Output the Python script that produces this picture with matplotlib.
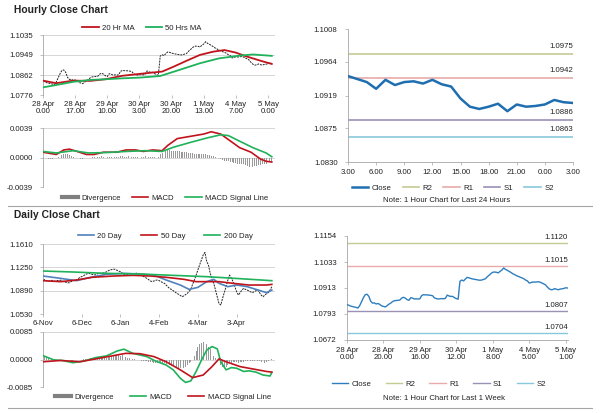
import numpy as np
import matplotlib
matplotlib.use("Agg")
import matplotlib.pyplot as plt
from matplotlib.lines import Line2D

plt.rcParams['font.family'] = ['Liberation Sans', 'DejaVu Sans']

# hourly close, 28 Apr 0.00 -> 5 May 1.00 (one value per bar)
hourly_close = [
    1.0836, 1.0833, 1.0829, 1.0827, 1.0825, 1.0823, 1.0820, 1.0832, 1.0850, 1.0868,
    1.0882, 1.0884, 1.0874, 1.0852, 1.0843, 1.0844, 1.0839, 1.0841, 1.0837, 1.0830,
    1.0828, 1.0825, 1.0831, 1.0838, 1.0843, 1.0850, 1.0854, 1.0855, 1.0856, 1.0857,
    1.0866, 1.0870, 1.0866, 1.0859, 1.0856, 1.0868, 1.0866, 1.0862, 1.0863, 1.0862,
    1.0863, 1.0878, 1.0882, 1.0881, 1.0881, 1.0880, 1.0879, 1.0877, 1.0867, 1.0864,
    1.0862, 1.0863, 1.0864, 1.0863, 1.0865, 1.0880, 1.0876, 1.0874, 1.0874, 1.0868,
    1.0864, 1.0861, 1.0944, 1.0950, 1.0946, 1.0955, 1.0962, 1.0960, 1.0957, 1.0955,
    1.0953, 1.0952, 1.0950, 1.0949, 1.0950, 1.0953, 1.0956, 1.0965, 1.0972, 1.0980,
    1.0986, 1.0987, 1.0986, 1.0983, 1.0990, 1.0996, 1.1006, 1.0999, 1.0995, 1.0990,
    1.0985, 1.0979, 1.0975, 1.0970, 1.0967, 1.0963, 1.0960, 1.0956, 1.0950, 1.0946,
    1.0936, 1.0938, 1.0941, 1.0940, 1.0941, 1.0942, 1.0940, 1.0936, 1.0932, 1.0927,
    1.0917, 1.0909, 1.0905, 1.0906, 1.0910, 1.0907, 1.0905, 1.0908, 1.0909, 1.0911,
    1.0914, 1.0913,
]
hourly_ticks = ["28 Apr\n0.00", "28 Apr\n17.00", "29 Apr\n10.00", "30 Apr\n3.00",
                "30 Apr\n20.00", "1 May\n13.00", "4 May\n7.00", "5 May\n0.00"]
week_ticks = ["28 Apr\n0.00", "28 Apr\n20.00", "29 Apr\n16.00", "30 Apr\n12.00",
              "1 May\n8.00", "4 May\n5.00", "5 May\n1.00"]
hourly_y = [1.0776, 1.0862, 1.0949, 1.1035]
hmacd_y = [-0.0039, 0.0000, 0.0039]
day_y = [1.0830, 1.0875, 1.0919, 1.0964, 1.1008]
week_y = [1.0672, 1.0793, 1.0913, 1.1033, 1.1154]
daily_y = [1.0530, 1.0890, 1.1250, 1.1610]
dmacd_y = [-0.0085, 0.0000, 0.0085]

ma20_idx = [0, 7, 16, 25, 33, 42, 51, 58, 63, 69, 76, 83, 90, 96, 102, 107, 115, 121]
ma20_val = [1.0838, 1.0827, 1.0838, 1.0837, 1.0844, 1.0859, 1.0867, 1.0873, 1.0877, 1.0898,
            1.0924, 1.0949, 1.0963, 1.0970, 1.0959, 1.0944, 1.0924, 1.0910]
ma50_idx = [0, 7, 16, 25, 33, 42, 51, 62, 72, 83, 93, 104, 111, 121]
ma50_val = [1.0809, 1.0819, 1.0833, 1.0841, 1.0844, 1.0848, 1.0851, 1.0858, 1.0884, 1.0913,
            1.0934, 1.0946, 1.0951, 1.0945]

hmacd_idx = [0, 7, 11, 14, 18, 23, 27, 32, 39, 44, 49, 53, 58, 63, 66, 71, 78, 85, 89, 94,
             99, 104, 110, 115, 118, 121]
hmacd_val = [0.0007, 0.0004, 0.0010, 0.0011, 0.0008, 0.0004, 0.0004, 0.0007, 0.0007, 0.0010,
             0.0010, 0.0008, 0.0010, 0.0009, 0.0016, 0.0025, 0.0028, 0.0031, 0.0034, 0.0031,
             0.0022, 0.0013, 0.0007, -0.0002, -0.0005, -0.0006]
hsig_idx = [0, 7, 16, 24, 33, 44, 54, 63, 69, 78, 87, 94, 98, 104, 111, 118, 121]
hsig_val = [0.0008, 0.0006, 0.0009, 0.0006, 0.00065, 0.0008, 0.0009, 0.0008, 0.00136, 0.0020,
            0.0026, 0.0030, 0.0029, 0.00216, 0.0013, 0.0006, 0.0001]
hdiv = [
    0.0001, 0.0000, -0.0001, -0.0002, -0.0002, -0.0002, -0.0001, 0.0000, 0.0001, 0.0002,
    0.0003, 0.0004, 0.0004, 0.0004, 0.0003, 0.0002, 0.0001, 0.0000, -0.0001, -0.0001,
    -0.0002, -0.0002, -0.0001, -0.0001, 0.0000, 0.0000, 0.0001, 0.0001, 0.0000, 0.0001,
    0.0001, 0.0002, 0.0001, 0.0000, 0.0001, 0.0001, 0.0001, 0.0000, 0.0001, 0.0001,
    0.0001, 0.0002, 0.0002, 0.0001, 0.0001, 0.0002, 0.0002, 0.0001, 0.0001, 0.0001,
    0.0001, 0.0000, 0.0001, 0.0001, 0.0002, 0.0002, 0.0001, 0.0001, 0.0001, 0.0001,
    0.0000, 0.0001, 0.0004, 0.0006, 0.0008, 0.0009, 0.0010, 0.0010, 0.0009, 0.0009,
    0.0008, 0.0008, 0.0008, 0.0007, 0.0007, 0.0007, 0.0007, 0.0006, 0.0006, 0.0006,
    0.0005, 0.0005, 0.0005, 0.0004, 0.0004, 0.0004, 0.0004, 0.0003, 0.0003, 0.0002,
    0.0002, 0.0001, 0.0000, -0.0001, -0.0002, -0.0003, -0.0004, -0.0005, -0.0005, -0.0006,
    -0.0006, -0.0007, -0.0007, -0.0008, -0.0008, -0.0008, -0.0009, -0.0010, -0.0011, -0.0012,
    -0.0012, -0.0012, -0.0011, -0.0011, -0.0010, -0.0010, -0.0009, -0.0008, -0.0008, -0.0007,
    -0.0006, -0.0006,
]

# last 24 hours, 4 May 3.00 -> 5 May 3.00
day_close = [1.0945, 1.0941, 1.0937, 1.0928, 1.0940, 1.0933, 1.0937, 1.0938, 1.0935, 1.0940,
             1.0934, 1.0931, 1.0915, 1.0904, 1.0901, 1.0904, 1.0908, 1.0898, 1.0907, 1.0904,
             1.0905, 1.0907, 1.0913, 1.0910, 1.0909]
day_ticks = ["3.00", "6.00", "9.00", "12.00", "15.00", "18.00", "21.00", "0.00", "3.00"]
day_levels = [1.0975, 1.0942, 1.0886, 1.0863]
week_levels = [1.1120, 1.1015, 1.0807, 1.0704]
level_names = ["R2", "R1", "S1", "S2"]

# daily close, 6-Nov onwards
daily_close = [
    1.1065, 1.1058, 1.1045, 1.1032, 1.1040, 1.1050, 1.1042, 1.1035, 1.1048, 1.1044,
    1.1052, 1.1038, 1.1025, 1.1020, 1.1010, 1.1013, 1.1030, 1.1042, 1.1050, 1.1054,
    1.1075, 1.1095, 1.1106, 1.1120, 1.1138, 1.1150, 1.1157, 1.1148, 1.1140, 1.1132,
    1.1136, 1.1150, 1.1160, 1.1155, 1.1162, 1.1167, 1.1180, 1.1196, 1.1209, 1.1215,
    1.1222, 1.1219, 1.1205, 1.1192, 1.1183, 1.1160, 1.1140, 1.1131, 1.1138, 1.1145,
    1.1150, 1.1147, 1.1152, 1.1160, 1.1157, 1.1145, 1.1130, 1.1110, 1.1096, 1.1080,
    1.1060, 1.1040, 1.1029, 1.1040, 1.1050, 1.1054, 1.1045, 1.1030, 1.1015, 1.1003,
    1.0975, 1.0945, 1.0920, 1.0910, 1.0890, 1.0870, 1.0849, 1.0835, 1.0815, 1.0797,
    1.0810, 1.0830, 1.0849, 1.0880, 1.0910, 1.0990, 1.1054, 1.1130, 1.1209, 1.1290,
    1.1363, 1.1440, 1.1480, 1.1340, 1.1286, 1.1157, 1.1080, 1.1003, 1.0900, 1.0797,
    1.0690, 1.0669, 1.0771, 1.0860, 1.0952, 1.1050, 1.1131, 1.1080, 1.1029, 1.0950,
    1.0874, 1.0823, 1.0860, 1.0900, 1.0926, 1.0910, 1.0900, 1.0885, 1.0870, 1.0859,
    1.0875, 1.0890, 1.0900, 1.0860, 1.0820, 1.0797, 1.0820, 1.0845, 1.0859, 1.0900,
    1.0952,
]
daily_ticks = ["6-Nov", "6-Dec", "6-Jan", "4-Feb", "4-Mar", "3-Apr"]

d20_idx = [0, 10, 19, 27, 36, 46, 55, 63, 70, 78, 83, 88, 93, 97, 100, 105, 110, 116, 121, 127, 130]
d20_val = [1.1116, 1.1080, 1.1044, 1.1096, 1.1142, 1.1157, 1.1147, 1.1131, 1.1054, 1.0977,
           1.0910, 1.0941, 1.1029, 1.1065, 1.1003, 1.0952, 1.0977, 1.0952, 1.0910, 1.0859, 1.0900]
d50_idx = [0, 10, 19, 28, 40, 51, 61, 70, 80, 87, 95, 100, 108, 117, 127, 130]
d50_val = [1.1044, 1.1029, 1.1054, 1.1096, 1.1116, 1.1126, 1.1116, 1.1096, 1.1065, 1.1029,
           1.1029, 1.1029, 1.1003, 1.0977, 1.0977, 1.0987]
d200_idx = [0, 17, 36, 55, 74, 93, 112, 130]
d200_val = [1.1193, 1.1178, 1.1157, 1.1147, 1.1126, 1.1106, 1.1075, 1.1044]

dmacd_idx = [0, 6, 11, 17, 23, 30, 36, 42, 46, 51, 59, 64, 70, 74, 78, 81, 84, 87, 90, 93,
             96, 99, 101, 104, 107, 110, 114, 117, 121, 125, 129, 130]
dmacd_val = [0.0012, -0.0001, -0.0003, -0.0010, -0.0005, 0.0006, 0.0011, 0.0026, 0.0032, 0.0019,
             0.0009, -0.0005, -0.0017, -0.0032, -0.0058, -0.0071, -0.0066, -0.0037, -0.0002, 0.0029,
             0.0040, 0.0033, -0.0007, -0.0032, -0.0025, -0.0027, -0.0037, -0.0035, -0.0039, -0.0048,
             -0.0051, -0.0040]
dsig_idx = [0, 10, 21, 30, 40, 47, 55, 63, 70, 78, 85, 91, 96, 100, 104, 112, 119, 127, 130]
dsig_val = [-0.0007, -0.0003, -0.0007, 0.0002, 0.0012, 0.0019, 0.0018, 0.0009, -0.0007, -0.0032,
            -0.0056, -0.0048, -0.0022, 0.0002, -0.0007, -0.0022, -0.0029, -0.0037, -0.0039]
ddiv = [
    0.0015, 0.0012, 0.0008, 0.0005, 0.0003, 0.0001, 0.0000, -0.0001, -0.0001, -0.0002,
    -0.0001, -0.0002, -0.0002, -0.0001, -0.0002, -0.0003, -0.0004, -0.0004, -0.0003, -0.0003,
    -0.0002, -0.0002, -0.0002, 0.0002, 0.0002, 0.0003, 0.0003, 0.0004, 0.0003, 0.0004,
    0.0004, 0.0003, 0.0004, 0.0005, 0.0004, 0.0005, 0.0005, 0.0008, 0.0009, 0.0010,
    0.0011, 0.0012, 0.0013, 0.0013, 0.0012, 0.0013, 0.0011, 0.0008, 0.0006, 0.0004,
    0.0003, 0.0002, 0.0001, -0.0002, -0.0003, -0.0003, -0.0004, -0.0005, -0.0006, -0.0006,
    -0.0008, -0.0008, -0.0009, -0.0010, -0.0010, -0.0011, -0.0011, -0.0012, -0.0012, -0.0012,
    -0.0015, -0.0017, -0.0018, -0.0020, -0.0021, -0.0023, -0.0024, -0.0025, -0.0027, -0.0026,
    -0.0025, -0.0024, -0.0018, -0.0012, -0.0008, -0.0002, 0.0012, 0.0025, 0.0038, 0.0047,
    0.0052, 0.0054, 0.0053, 0.0048, 0.0040, 0.0032, 0.0022, 0.0012, 0.0004, -0.0004,
    -0.0012, -0.0018, -0.0022, -0.0024, -0.0022, -0.0016, -0.0012, -0.0010, -0.0009, -0.0008,
    -0.0009, -0.0010, -0.0009, -0.0008, -0.0007, -0.0006, -0.0006, -0.0005, -0.0005, -0.0006,
    -0.0005, -0.0004, -0.0005, -0.0006, -0.0008, -0.0009, -0.0010, -0.0008, -0.0005, -0.0002,
    0.0003,
]

W, H = 600, 413
RED = "#c0141c"
GREEN = "#1fb25a"
BLUE = "#4f81bd"
GRAY = "#999999"
GRID = "#d0d0d0"
TXT = "#222222"
FS = 5.6
level_colors = ["#c5ca92", "#e8aaaa", "#9b90b6", "#88c8dc"]

fig = plt.figure(figsize=(W / 100, H / 100), dpi=100)


def px_axes(x0, y0, x1, y1):
    return fig.add_axes([x0 / W, 1 - y1 / H, (x1 - x0) / W, (y1 - y0) / H])


def grid_style(ax, ticks):
    ax.set_ylim(ticks[0], ticks[-1])
    ax.set_yticks(ticks)
    ax.set_yticklabels([f"{t:.4f}" for t in ticks])
    for t in ticks:
        ax.axhline(t, color=GRID, lw=0.6, zorder=0)
    for s in ["top", "right", "bottom"]:
        ax.spines[s].set_visible(False)
    ax.spines["left"].set_color("#a6a6a6")
    ax.spines["left"].set_linewidth(0.6)
    ax.tick_params(axis="both", labelsize=FS, colors="#a6a6a6", labelcolor=TXT,
                   length=2, width=0.5, pad=2)
    ax.tick_params(axis="y", pad=5)


def level_style(ax, ticks):
    ax.set_ylim(ticks[0], ticks[-1])
    ax.set_yticks(ticks)
    ax.set_yticklabels([f"{t:.4f}" for t in ticks])
    for s in ["top", "right"]:
        ax.spines[s].set_visible(False)
    for s in ["left", "bottom"]:
        ax.spines[s].set_color("#a6a6a6")
        ax.spines[s].set_linewidth(0.6)
    ax.tick_params(axis="both", labelsize=FS, colors="#a6a6a6", labelcolor=TXT,
                   length=2.5, width=0.5, pad=2.5)
    ax.tick_params(axis="y", pad=5)


def leg(ax, handles, cx, cy, spacing=1.4):
    ax.legend(handles=handles, loc="center", bbox_to_anchor=(cx / W, 1 - cy / H),
              bbox_transform=fig.transFigure, ncol=len(handles), frameon=False,
              fontsize=FS, handlelength=2.1, handletextpad=0.45, columnspacing=spacing,
              labelcolor=TXT)


# %% Hourly close chart
fig.text(14 / W, 1 - 10 / H, "Hourly Close Chart", fontsize=7.4, fontweight="bold",
         color=TXT, va="center")

ax1 = px_axes(43, 35, 275, 95)
x_h = np.arange(len(hourly_close))
ax1.plot(x_h, hourly_close, color="#222222", lw=0.7, ls=(0, (2, 1)), zorder=2)
l20, = ax1.plot(ma20_idx, ma20_val, color=RED, lw=1.3, label="20 Hr MA", zorder=3)
l50, = ax1.plot(ma50_idx, ma50_val, color=GREEN, lw=1.3, label="50 Hrs MA", zorder=3)
grid_style(ax1, hourly_y)
ax1.set_xlim(0, 122.7)
ax1.set_xticks(np.arange(0, 120, 17))
ax1.set_xticklabels(hourly_ticks, linespacing=1.1)
leg(ax1, [l20, l50], 142, 28)

ax2 = px_axes(43, 128, 275, 187)
ax2.bar(x_h, hdiv, width=0.5, color=GRAY, zorder=1)
m1, = ax2.plot(hmacd_idx, hmacd_val, color=RED, lw=1.2, label="MACD", zorder=3)
s1, = ax2.plot(hsig_idx, hsig_val, color=GREEN, lw=1.2, label="MACD Signal Line", zorder=3)
grid_style(ax2, hmacd_y)
ax2.set_xlim(0, 122.7)
ax2.set_xticks([])
dh = Line2D([], [], color="#808080", lw=3, label="Divergence")
leg(ax2, [dh, m1, s1], 165, 198)

# %% 24 hour chart
ax3 = px_axes(348, 29, 573, 162)
x_d = np.arange(len(day_close))
c3, = ax3.plot(x_d, day_close, color="#1f6eb0", lw=1.8, label="Close", zorder=3)
hl3 = []
for lv, nm, col in zip(day_levels, level_names, level_colors):
    h, = ax3.plot([0, 24], [lv, lv], color=col, lw=1.2, label=nm, zorder=2)
    hl3.append(h)
    ax3.annotate(f"{lv:.4f}", (24, lv), xytext=(0, 4), textcoords="offset pixels",
                 ha="right", va="bottom", fontsize=FS, color=TXT)
level_style(ax3, day_y)
ax3.set_xlim(0, 24)
ax3.set_xticks(np.arange(0, 25, 3))
ax3.set_xticklabels(day_ticks)
leg(ax3, [c3] + hl3, 453, 188, spacing=1.4)
fig.text(447 / W, 1 - 201 / H, "Note: 1 Hour Chart for Last 24 Hours", fontsize=FS,
         color=TXT, ha="center", va="center")

# separators
for yy in [206, 408]:
    fig.add_artist(Line2D([8 / W, 592 / W], [1 - yy / H] * 2, color="#a6a6a6", lw=0.8))

# %% Daily close chart
fig.text(14 / W, 1 - 215 / H, "Daily Close Chart", fontsize=7.4, fontweight="bold",
         color=TXT, va="center")

ax4 = px_axes(43, 244, 275, 314)
x_dd = np.arange(len(daily_close))
ax4.plot(x_dd, daily_close, color="#222222", lw=0.7, ls=(0, (2, 1)), zorder=2)
b20, = ax4.plot(d20_idx, d20_val, color=BLUE, lw=1.2, label="20 Day", zorder=3)
r50, = ax4.plot(d50_idx, d50_val, color=RED, lw=1.2, label="50 Day", zorder=3)
g200, = ax4.plot(d200_idx, d200_val, color=GREEN, lw=1.2, label="200 Day", zorder=3)
grid_style(ax4, daily_y)
ax4.set_xlim(0, 131.8)
ax4.set_xticks(np.arange(0, 111, 22))
ax4.set_xticklabels(daily_ticks)
leg(ax4, [b20, r50, g200], 165, 236, spacing=2.4)

ax5 = px_axes(43, 332, 275, 387)
ax5.bar(x_dd, ddiv, width=0.5, color=GRAY, zorder=1)
m2, = ax5.plot(dmacd_idx, dmacd_val, color=GREEN, lw=1.2, label="MACD", zorder=3)
s2, = ax5.plot(dsig_idx, dsig_val, color=RED, lw=1.2, label="MACD Signal Line", zorder=3)
grid_style(ax5, dmacd_y)
ax5.set_xlim(0, 131.8)
ax5.set_xticks([])
dh2 = Line2D([], [], color="#808080", lw=3, label="Divergence")
leg(ax5, [dh2, m2, s2], 163, 397, spacing=2.0)

# %% 1 week chart
ax6 = px_axes(347, 236, 568, 340)
c6, = ax6.plot(x_h, hourly_close, color="#2e7ebf", lw=1.0, label="Close", zorder=3)
hl6 = []
for lv, nm, col in zip(week_levels, level_names, level_colors):
    h, = ax6.plot([0, 121.3], [lv, lv], color=col, lw=1.0, label=nm, zorder=2)
    hl6.append(h)
    ax6.annotate(f"{lv:.4f}", (121.3, lv), xytext=(0, 2), textcoords="offset pixels",
                 ha="right", va="bottom", fontsize=FS, color=TXT)
level_style(ax6, week_y)
ax6.set_xlim(0, 121.3)
ax6.set_xticks(np.arange(0, 121, 20))
ax6.set_xticklabels(week_ticks, linespacing=1.1)
leg(ax6, [c6] + hl6, 439, 384, spacing=1.8)
fig.text(444 / W, 1 - 398 / H, "Note: 1 Hour Chart for Last 1 Week", fontsize=FS,
         color=TXT, ha="center", va="center")

plt.savefig("out.png", dpi=100)
plt.close()
